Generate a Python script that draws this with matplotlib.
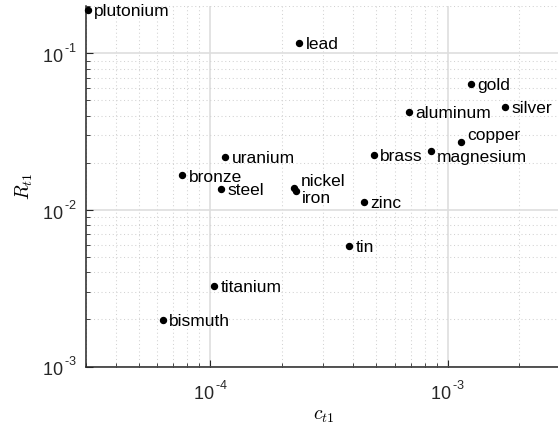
import matplotlib
matplotlib.use("Agg")
import matplotlib.pyplot as plt
from matplotlib.ticker import LogLocator, FuncFormatter, NullFormatter
import numpy as np

try:
    # raise exponents a little higher than the mathtext default
    import matplotlib._mathtext as _mt
    _mt.FontConstantsBase.sup1 = 1.05
except Exception:
    pass

plt.rcParams['font.family'] = ['Liberation Sans', 'DejaVu Sans']
plt.rcParams['mathtext.fontset'] = 'cm'

materials = ["plutonium", "lead", "gold", "aluminum", "silver", "copper",
             "magnesium", "brass", "nickel", "iron", "zinc", "uranium",
             "bronze", "steel", "titanium", "bismuth", "tin"]
c_t1 = [3.05e-5, 2.37e-4, 1.25e-3, 6.87e-4, 1.75e-3, 1.14e-3,
        8.5e-4, 4.89e-4, 2.26e-4, 2.29e-4, 4.45e-4, 1.16e-4,
        7.63e-5, 1.11e-4, 1.04e-4, 6.33e-5, 3.85e-4]
R_t1 = [0.19, 0.116, 0.064, 0.0422, 0.0456, 0.0273,
        0.0238, 0.0224, 0.0139, 0.0132, 0.0113, 0.0219,
        0.0166, 0.0136, 0.00327, 0.00198, 0.00589]

# label offsets (points) relative to each marker
offsets = {
    "nickel": (4.5, 4.5),
    "iron": (4.5, -5.5),
    "copper": (4.5, 4.5),
    "magnesium": (4.5, -5),
}

fig = plt.figure(figsize=(5.58, 4.36), dpi=100)
ax = fig.add_axes([86/558, 69.5/436, 475/558, 360.3/436])

ax.plot(c_t1, R_t1, 'o', color='black', markersize=4.3, linestyle='none',
        zorder=3, clip_on=False)
for name, x, y in zip(materials, c_t1, R_t1):
    dx, dy = offsets.get(name, (4.5, -1.2))
    ax.annotate(name, (x, y), xytext=(dx, dy), textcoords='offset points',
                ha='left', va='center', fontsize=12.5, color='black')

ax.set_xscale('log')
ax.set_yscale('log')
ax.set_xlim(3e-5, 3e-3)
ax.set_ylim(1e-3, 0.2)


def pow10(v, pos):
    e = int(round(np.log10(v)))
    sign = '\u2010' if e < 0 else ''
    return r'$\mathregular{10^{\,%s%d}}$' % (sign, abs(e))


fmt = FuncFormatter(pow10)
ax.xaxis.set_major_locator(LogLocator(base=10, numticks=10))
ax.yaxis.set_major_locator(LogLocator(base=10, numticks=10))
ax.xaxis.set_minor_locator(LogLocator(base=10, subs=np.arange(2, 10), numticks=20))
ax.yaxis.set_minor_locator(LogLocator(base=10, subs=np.arange(2, 10), numticks=20))
ax.xaxis.set_major_formatter(fmt)
ax.yaxis.set_major_formatter(fmt)
ax.xaxis.set_minor_formatter(NullFormatter())
ax.yaxis.set_minor_formatter(NullFormatter())

ax.grid(True, which='major', color='#dedede', linewidth=1.2, linestyle='-')
ax.grid(True, which='minor', color='#d2d2d2', linewidth=0.75, linestyle=(0, (1, 2.6)))
ax.set_axisbelow(True)

for s in ['top', 'right']:
    ax.spines[s].set_visible(False)
for s in ['left', 'bottom']:
    ax.spines[s].set_linewidth(1.1)
    ax.spines[s].set_color('#262626')

ax.tick_params(which='both', direction='in', top=False, right=False,
               labelsize=13, colors='#262626', labelcolor='#262626')
ax.tick_params(which='major', length=5)
ax.tick_params(which='minor', length=3)
ax.tick_params(axis='x', which='major', pad=10)
ax.tick_params(axis='y', which='major', pad=7)

ax.set_xlabel(r'$c_{t1}$', fontsize=14, labelpad=3)
ax.set_ylabel(r'$R_{t1}$', fontsize=14, labelpad=5)

fig.savefig('out.png', dpi=100)
